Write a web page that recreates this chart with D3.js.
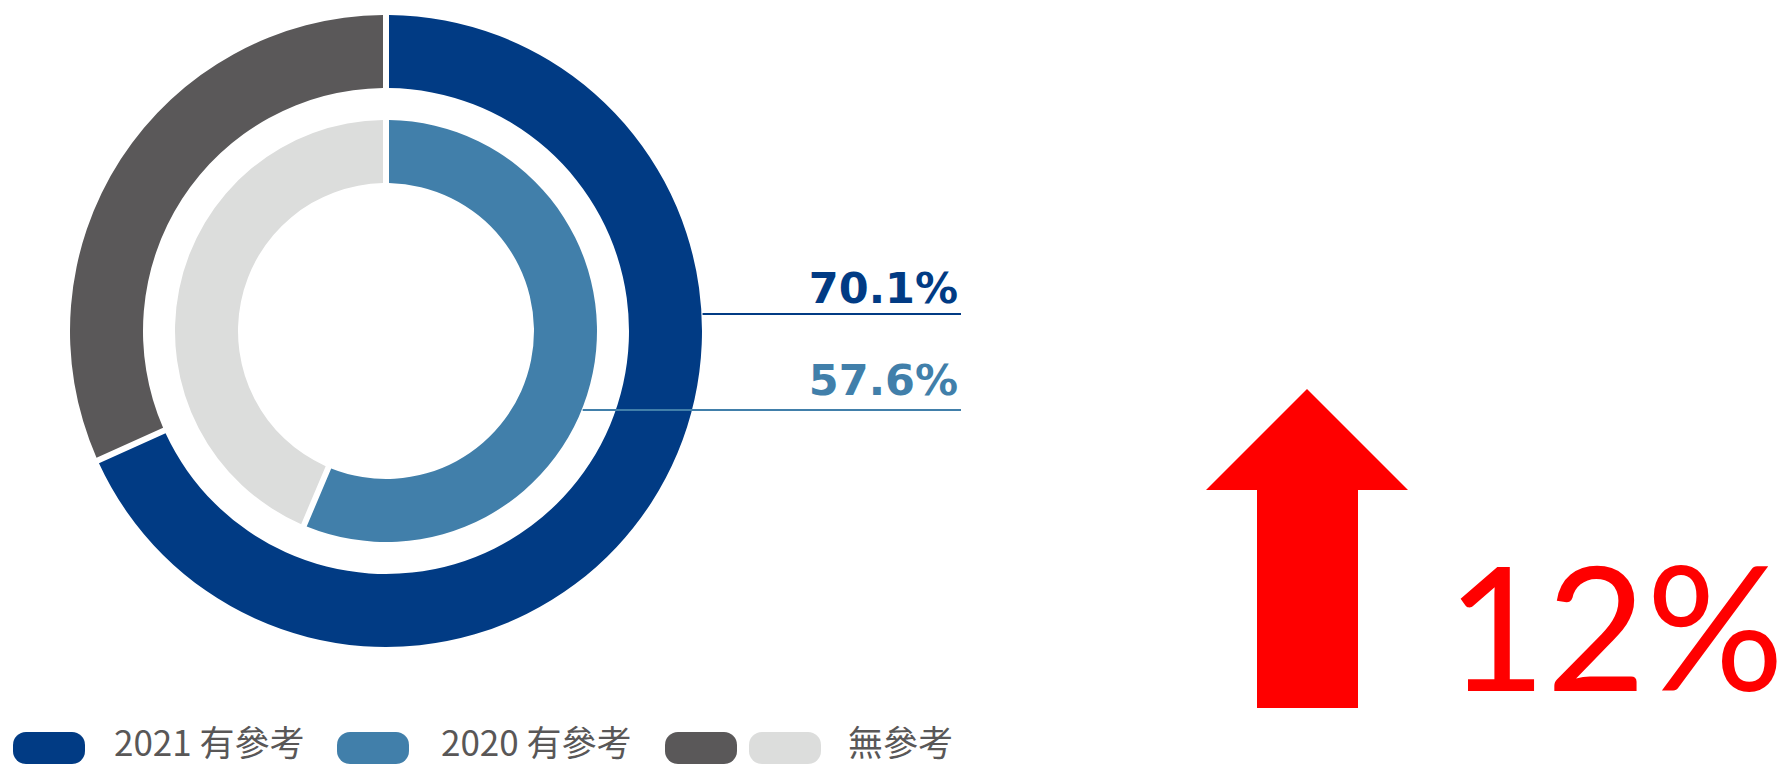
<!DOCTYPE html>
<html>
<head>
<meta charset="utf-8">
<script src="https://cdn.jsdelivr.net/npm/d3@7"></script>
<style>
  html, body { margin: 0; padding: 0; background: #fff; }
  svg { display: block; }
</style>
</head>
<body>
<div id="chart"></div>
<script>
// data
const rings = ["2021", "2020"]
const labelValues = [70.1, 57.6]            // printed % 有參考
const arcShare = [68.4, 56.4]               // share as drawn in the picture
const ringColors = ["#013b84", "#417faa"]
const restColors = ["#5a5859", "#dcdddc"]   // 無參考
const legendLabels = ["2021 有參考", "2020 有參考", "無參考"]
const growthLabel = "12%"

const width = 1783
const height = 767

const svg = d3.select("#chart").append("svg")
    .attr("width", width).attr("height", height)

// donut geometry
const cx = 386, cy = 331
const radii = [[243, 316], [148, 211]]  // [inner, outer] per ring
const gap = 6

const pie = d3.pie().sort(null).value(d => d)
const g = svg.append("g").attr("transform", `translate(${cx},${cy})`)

rings.forEach((r, i) => {
    const v = arcShare[i]
    const arc = d3.arc()
        .innerRadius(radii[i][0])
        .outerRadius(radii[i][1])
        .padRadius(300)
    const slices = pie.padAngle(gap / 300)([v, 100 - v])
    g.append("g").selectAll("path")
        .data(slices)
        .join("path")
        .attr("d", arc)
        .attr("fill", (d, j) => j === 0 ? ringColors[i] : restColors[i])
})

// percentage labels with leader lines
const labelRight = 961
const lineY = [314, 410]
const textY = [303, 395]
rings.forEach((r, i) => {
    const y = lineY[i]
    const dy = y - cy
    const x0 = cx + Math.sqrt(radii[i][1] ** 2 - dy ** 2) + 1
    svg.append("line")
        .attr("x1", x0).attr("x2", labelRight)
        .attr("y1", y).attr("y2", y)
        .attr("stroke", ringColors[i])
        .attr("stroke-width", 2)
    svg.append("text")
        .attr("x", labelRight - 3)
        .attr("y", textY[i])
        .attr("text-anchor", "end")
        .attr("fill", ringColors[i])
        .style("font-family", "'DejaVu Sans', sans-serif")
        .style("font-weight", "bold")
        .style("font-size", "43px")
        .text(d3.format(".1f")(labelValues[i]) + "%")
})

// legend
const legendY = 732
const swatches = [
    { x: 13, color: ringColors[0] },
    { x: 337, color: ringColors[1] },
    { x: 665, color: restColors[0] },
    { x: 749, color: restColors[1] }
]
svg.append("g").selectAll("rect")
    .data(swatches)
    .join("rect")
    .attr("x", d => d.x)
    .attr("y", legendY)
    .attr("width", 72)
    .attr("height", 32)
    .attr("rx", 13)
    .attr("fill", d => d.color)

const legendTextX = [114, 441, 848]
svg.append("g").selectAll("text")
    .data(legendLabels)
    .join("text")
    .attr("x", (d, i) => legendTextX[i])
    .attr("y", 756)
    .attr("fill", "#595757")
    .style("font-family", "'Noto Sans CJK TC', 'Noto Sans', sans-serif")
    .style("font-size", "35px")
    .text(d => d)

// red up arrow + growth
const arrow = { tip: 389, headBase: 490, bottom: 708, headL: 1206, headR: 1408, shaftL: 1257, shaftR: 1358 }
const ax = (arrow.headL + arrow.headR) / 2
svg.append("path")
    .attr("d", d3.line()([
        [ax, arrow.tip], [arrow.headR, arrow.headBase], [arrow.shaftR, arrow.headBase],
        [arrow.shaftR, arrow.bottom], [arrow.shaftL, arrow.bottom], [arrow.shaftL, arrow.headBase],
        [arrow.headL, arrow.headBase]
    ]) + "Z")
    .attr("fill", "#ff0000")

svg.append("text")
    .attr("x", 1784)
    .attr("y", 691)
    .attr("text-anchor", "end")
    .attr("fill", "#ff0000")
    .style("font-family", "Lato, sans-serif")
    .style("font-size", "172px")
    .text(growthLabel)
</script>
</body>
</html>
